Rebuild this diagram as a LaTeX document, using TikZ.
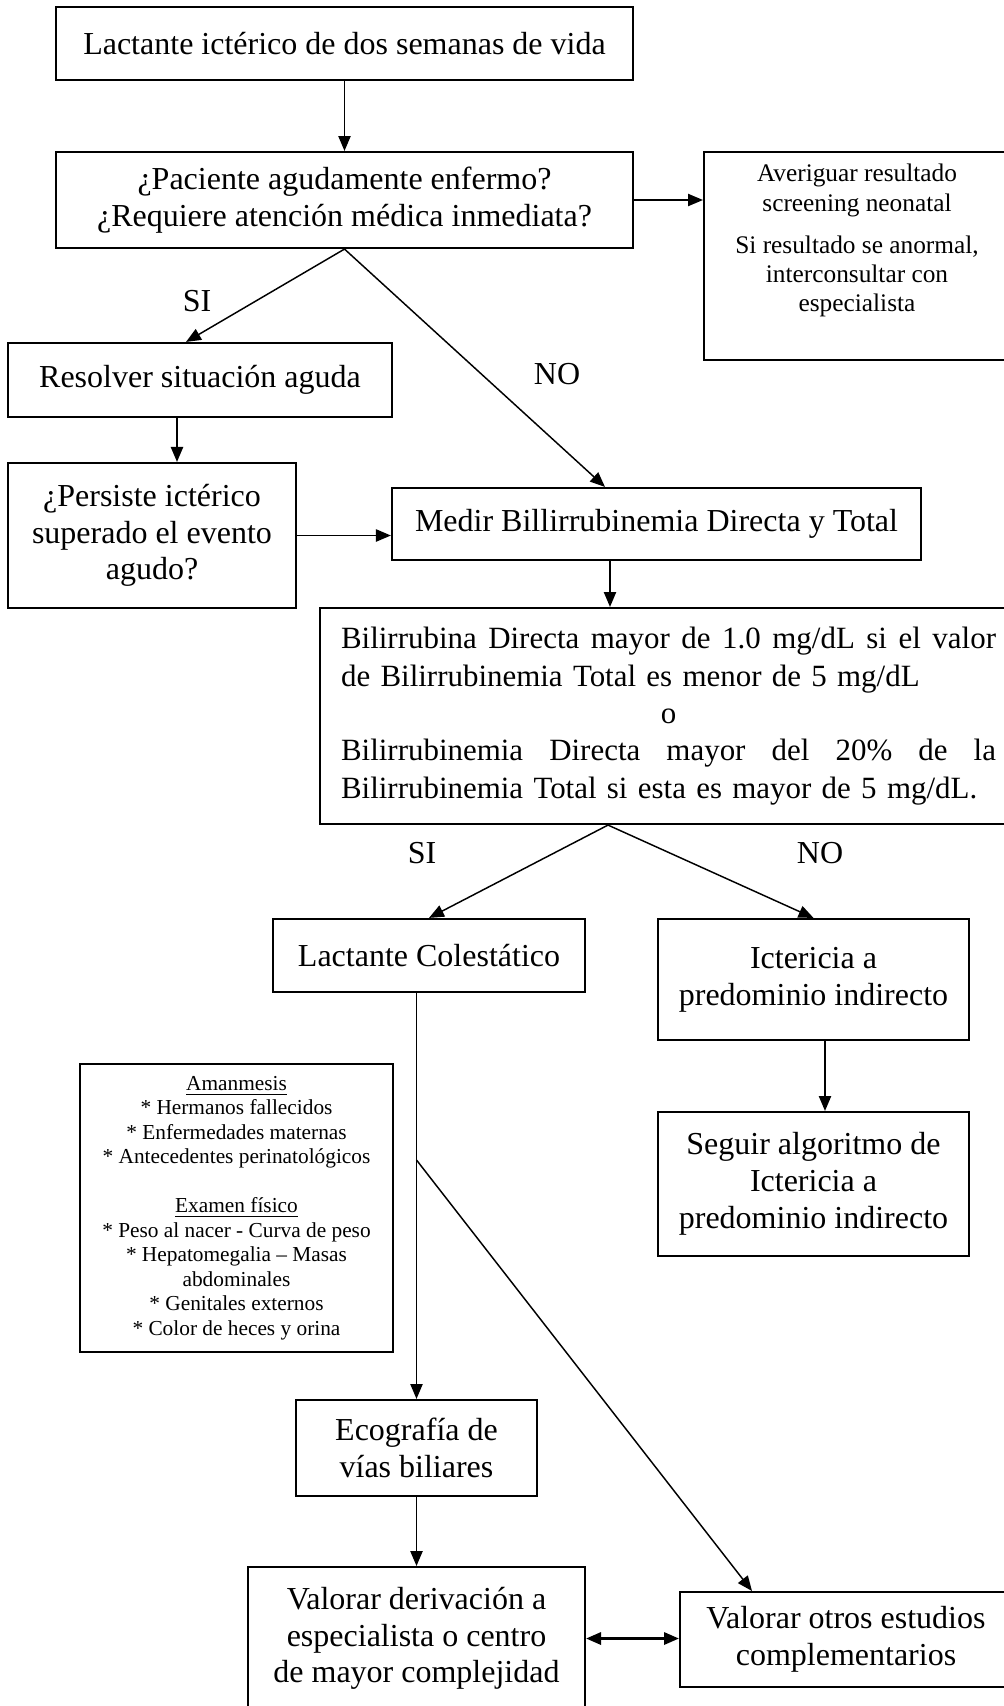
\documentclass[tikz,border=0pt]{standalone}
\usepackage{fontspec}
\setmainfont{Liberation Serif}
\usetikzlibrary{arrows.meta}

\begin{document}
\begin{tikzpicture}[x=0.375pt, y=-0.375pt, every node/.style={font=\fontsize{12}{13.8}\selectfont},
	box/.style={draw, line width=0.8pt, align=center, inner sep=0pt},
	lbl/.style={inner sep=0pt},
	arr/.style={-{Triangle[length=5.6pt, width=4.6pt]}, line width=0.55pt},
	arr2/.style={{Triangle[length=5.6pt, width=4.6pt]}-{Triangle[length=5.6pt, width=4.6pt]}, line width=0.9pt}]
	\useasboundingbox (0,0) rectangle (1004,1706);
	\node[box, minimum width=216.4pt, minimum height=27.4pt] (lact) at (344.5,43.5) {Lactante ictérico de dos semanas de vida};
	\node[box, minimum width=216.4pt, minimum height=36pt] (agudo) at (344.5,200) {¿Paciente agudamente enfermo?\\¿Requiere atención médica inmediata?};
	\node[box, minimum width=114.75pt, minimum height=78pt, font=\fontsize{9.5}{10.9}\selectfont] (scr) at (857,256) {Averiguar resultado\\screening neonatal\\[5pt]Si resultado se anormal,\\interconsultar con\\especialista\\[2.6pt]\mbox{}};
	\node[box, minimum width=144pt, minimum height=27.75pt] (res) at (200,380) {Resolver situación aguda};
	\node[box, minimum width=108pt, minimum height=54.4pt] (per) at (152,535.5) {¿Persiste ictérico\\superado el evento\\agudo?};
	\node[box, minimum width=198.4pt, minimum height=27pt] (med) at (656.5,524) {Medir Billirrubinemia Directa y Total};
	\node[box, minimum width=261.4pt, minimum height=81pt, text width=245.6pt, align=left, font=\fontsize{11.6}{14}\selectfont] (bil) at (668.5,716) {\makebox[245.6pt][l]{Bilirrubina\hfill Directa\hfill mayor\hfill de\hfill 1.0\hfill mg/dL\hfill si\hfill el\hfill valor}\\\makebox[245.6pt][l]{de Bilirrubinemia Total es menor de 5 mg/dL}\\\makebox[245.6pt][c]{o}\\\makebox[245.6pt][l]{Bilirrubinemia\hfill Directa\hfill mayor\hfill del\hfill 20\%\hfill de\hfill la}\\\makebox[245.6pt][l]{Bilirrubinemia Total si esta es mayor de 5 mg/dL.}};
	\node[box, minimum width=117pt, minimum height=27.4pt] (col) at (429,955.5) {Lactante Colestático};
	\node[box, minimum width=116.6pt, minimum height=45.4pt] (ind) at (813.5,979.5) {Ictericia a\\predominio indirecto};
	\node[box, minimum width=116.6pt, minimum height=54pt] (seg) at (813.5,1184) {Seguir algoritmo de\\Ictericia a\\predominio indirecto};
	\node[box, minimum width=117.4pt, minimum height=108pt, font=\fontsize{8}{9.2}\selectfont] (ana) at (236.5,1208) {\underline{Amanmesis}\\* Hermanos fallecidos\\* Enfermedades maternas\\* Antecedentes perinatológicos\\[9.2pt]\underline{Examen físico}\\* Peso al nacer - Curva de peso\\* Hepatomegalia – Masas\\abdominales\\* Genitales externos\\* Color de heces y orina};
	\node[box, minimum width=90.4pt, minimum height=36pt] (eco) at (416.5,1448) {Ecografía de\\vías biliares};
	\node[box, minimum width=126.4pt, minimum height=53.6pt] (der) at (416.5,1638.5) {Valorar derivación a\\especialista o centro\\de mayor complejidad};
	\node[box, minimum width=124.5pt, minimum height=35.6pt] (otr) at (846,1639.5) {Valorar otros estudios\\complementarios};
	% etiquetas de las ramas
	\node[lbl] (si1) at (197,301) {SI};
	\node[lbl] (no1) at (557,374) {NO};
	\node[lbl] (si2) at (422,853) {SI};
	\node[lbl] (no2) at (820,853) {NO};
	\coordinate (rama) at (416.5,1160);
	\draw[arr] (lact) -- (agudo);
	\draw[arr] (agudo.east) -- (agudo.east -| scr.west);
	\draw[arr] (agudo.south) -- (res.north -| 186,0);
	\draw[arr] (agudo.south) -- (med.north -| 605,0);
	\draw[arr] (res.south -| 177,0) -- (per.north -| 177,0);
	\draw[arr] (per.east) -- (per.east -| med.west);
	\draw[arr] (med.south -| 610,0) -- (bil.north -| 610,0);
	\draw[arr] (bil.south -| 608,0) -- (col.north);
	\draw[arr] (bil.south -| 608,0) -- (ind.north);
	\draw[arr] (ind.south -| 825,0) -- (seg.north -| 825,0);
	\draw[arr] (col.south -| eco.north) -- (eco.north);
	\draw[arr] (rama) -- (otr.north -| 752,0);
	\draw[arr] (eco) -- (der);
	\draw[arr2] (der.east) -- (der.east -| otr.west);
\end{tikzpicture}
\end{document}
